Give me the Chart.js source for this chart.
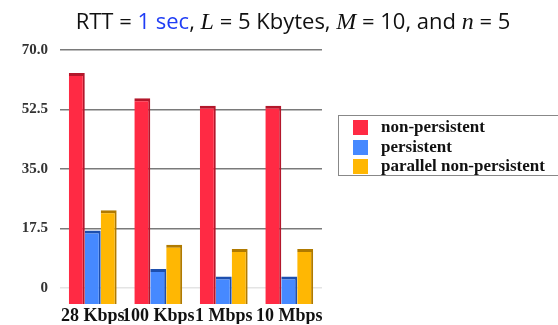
<!DOCTYPE html>
<html>
<head>
<meta charset="utf-8">
<script src="https://cdn.jsdelivr.net/npm/chart.js@4"></script>
<style>
  body { margin: 0; background: #fff; }
  #wrap { position: relative; width: 558px; height: 325px; }
  #title { position: absolute; left: 0; top: 5px; width: 586px; text-align: center;
    font: 22px "Open Sans", sans-serif; color: #111; white-space: nowrap; }
  #title .blue { color: #1f3df5; }
  #title i { font-family: "Liberation Serif", serif; font-size: 24px; }
  #legend { position: absolute; left: 338px; top: 115px; width: 230px; height: 61px;
    border: 1px solid #888; box-sizing: border-box; }
  .item { position: absolute; left: 14px; height: 16px; font: bold 17px "Liberation Serif", serif; color: #111; }
  .item span.sw { position: absolute; left: 0; top: 1px; width: 15px; height: 15px; }
  .item span.lb { position: absolute; left: 28px; top: -2px; white-space: nowrap; }
</style>
</head>
<body>
<div id="wrap">
  <canvas id="chart" width="558" height="325"></canvas>
  <div id="title">RTT = <span class="blue">1 sec</span>, <i>L</i> = 5 Kbytes, <i>M</i> = 10, and <i>n</i> = 5</div>
  <div id="legend"></div>
</div>
<script>
const categories = ['28 Kbps', '100 Kbps', '1 Mbps', '10 Mbps'];
const seriesNames = ['non-persistent', 'persistent', 'parallel non-persistent'];
const nonPersistent = [63.2, 55.8, 53.6, 53.6];
const persistent = [16.9, 5.6, 3.4, 3.4];
const parallelNonPersistent = [22.9, 12.7, 11.5, 11.5];
const yTicks = [0, 17.5, 35, 52.5, 70];

const fills = ['#ff2a44', '#4689ff', '#ffb703'];
const edges = ['#b3172b', '#1d4fae', '#b07a00'];
const values = [nonPersistent, persistent, parallelNonPersistent];

// legend built from the same series names
const legend = document.getElementById('legend');
seriesNames.forEach((name, i) => {
  const d = document.createElement('div');
  d.className = 'item';
  d.style.top = (3 + i * 19.5) + 'px';
  d.innerHTML = `<span class="sw" style="background:${fills[i]}"></span><span class="lb">${name}</span>`;
  legend.appendChild(d);
});

const yMin = -4.7;

new Chart(document.getElementById('chart'), {
  type: 'bar',
  data: {
    labels: categories,
    datasets: values.map((v, i) => ({
      label: seriesNames[i],
      data: v,
      base: yMin,
      backgroundColor: fills[i],
      borderColor: edges[i],
      borderWidth: { top: 3, right: 2, left: 0, bottom: 0 },
      borderSkipped: false,
      barPercentage: 1,
      categoryPercentage: 0.73,
    })),
  },
  options: {
    responsive: false,
    animation: false,
    layout: { padding: { top: 50, right: 236, bottom: 0, left: 0 } },
    plugins: { legend: { display: false }, tooltip: { enabled: false } },
    scales: {
      x: {
        afterFit: (s) => { s.height = 20; },
        grid: { display: false, drawTicks: false },
        border: { display: false },
        ticks: { color: '#111', font: { family: 'Liberation Serif', size: 18, weight: 'bold', lineHeight: 1 }, padding: 3, autoSkip: false, maxRotation: 0 },
      },
      y: {
        min: yMin,
        max: 70,
        afterBuildTicks: (s) => { s.ticks = yTicks.map(v => ({ value: v })); },
        afterFit: (s) => { s.width = 60; },
        border: { display: false },
        grid: {
          drawTicks: false,
          lineWidth: 1.5,
          color: (c) => (c.tick && c.tick.value === 0 ? '#e4e4e4' : '#7a7a7a'),
        },
        ticks: {
          color: '#333',
          padding: 12,
          font: { family: 'Liberation Serif', size: 15, weight: 'bold' },
          callback: (v) => (v === 0 ? '0' : v.toFixed(1)),
        },
      },
    },
  },
});
</script>
</body>
</html>
